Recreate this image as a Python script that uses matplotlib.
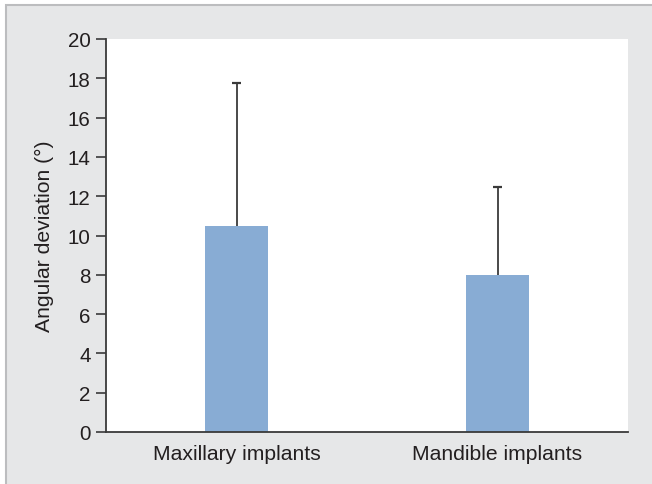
import matplotlib
matplotlib.use("Agg")
import matplotlib.pyplot as plt
from matplotlib.patches import Rectangle

categories = ["Maxillary implants", "Mandible implants"]
means = [10.5, 8.0]
errors = [7.25, 4.45]
yticks = [0, 2, 4, 6, 8, 10, 12, 14, 16, 18, 20]

plt.rcParams['font.family'] = ['Liberation Sans', 'DejaVu Sans']
W, H = 652, 485
fig = plt.figure(figsize=(W / 100, H / 100), dpi=100)
fig.patch.set_facecolor('white')

# gray frame panel
fig.patches.append(Rectangle((5.5 / W, -0.1), 1.2, (H - 5.5) / H + 0.1,
                             transform=fig.transFigure, facecolor='#e6e7e8',
                             edgecolor='#bcbdbf', linewidth=1.5, zorder=-10))

ax = fig.add_axes([106 / W, (H - 433) / H, (628 - 106) / W, (433 - 40) / H])
ax.set_facecolor('white')
text_color = '#231f20'
line_color = '#3a3a3a'
x = list(range(len(categories)))
ax.bar(x, means, width=0.245, color='#88acd4', zorder=2)
tops = [m + e for m, e in zip(means, errors)]
ax.vlines(x, means, tops, colors=line_color, linewidth=1.3, zorder=1)
ax.hlines(tops, [xi - 0.018 for xi in x], [xi + 0.018 for xi in x],
          colors=line_color, linewidth=1.6, zorder=1)
ax.set_xlim(-0.5, 1.5)
ax.set_ylim(0, 20)
ax.set_yticks(yticks)
ax.set_xticks(x)
ax.set_xticklabels(categories)
for s in ['top', 'right']:
    ax.spines[s].set_visible(False)
for s in ['left', 'bottom']:
    ax.spines[s].set_color(line_color)
    ax.spines[s].set_linewidth(1.3)
ax.tick_params(axis='y', length=7, width=1.2, color=line_color, pad=4,
               labelsize=14.8, labelcolor=text_color)
ax.tick_params(axis='x', length=0, pad=9, labelsize=15.2, labelcolor=text_color)
ax.set_ylabel('Angular deviation (°)', fontsize=15.2, color=text_color, labelpad=10)

fig.savefig('out.png', dpi=100)
